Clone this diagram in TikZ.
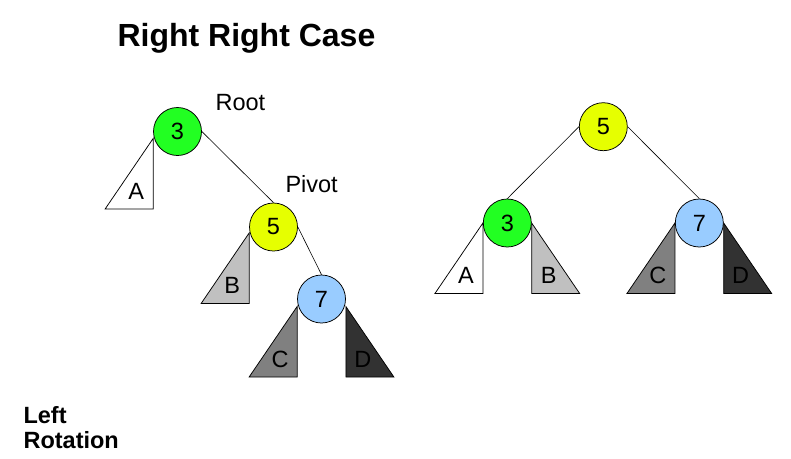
\documentclass[tikz,border=0pt]{standalone}
\usepackage{fontspec}
\setmainfont{Liberation Sans}
\usepackage{tikz}
\usetikzlibrary{calc}

\definecolor{keygreen}{RGB}{34,255,34}
\definecolor{keyyellow}{RGB}{230,255,0}
\definecolor{keyblue}{RGB}{153,204,255}
\definecolor{subB}{RGB}{192,192,192}
\definecolor{subC}{RGB}{128,128,128}
\definecolor{subD}{RGB}{50,50,50}

\begin{document}
\begin{tikzpicture}[x=1pt,y=-1pt,
        key/.style={circle,draw,line width=0.75pt,minimum size=48pt,inner sep=0pt,font=\fontsize{23.5}{23.5}\selectfont},
        edge/.style={line width=0.6pt},
        sub/.style={draw,line width=0.75pt},
        sublabel/.style={anchor=base,font=\fontsize{23.5}{23.5}\selectfont},
        caption/.style={anchor=base west,font=\fontsize{23.5}{23.5}\selectfont}]

        \useasboundingbox (0,0) rectangle (791,458);

        % title and note
        \node[caption,font=\bfseries\fontsize{32}{32}\selectfont] (title) at (114,46.7) {Right Right Case};
        \node[caption,font=\bfseries\fontsize{23.5}{23.5}\selectfont] (left) at (20,423.3) {Left};
        \node[caption,font=\bfseries\fontsize{23.5}{23.5}\selectfont] (rotation) at (20,448.3) {Rotation};

        % left tree (before the rotation)
        \node[key,fill=keygreen]  (l3) at (177.5,131.5) {3};
        \node[key,fill=keyyellow] (l5) at (273.5,227) {5};
        \node[key,fill=keyblue]   (l7) at (321.5,299) {7};
        \node[caption] (root)  at (212,110) {Root};
        \node[caption] (pivot) at (282,192.3) {Pivot};

        \draw[edge] (l3.east) -- (l5.north);
        \draw[edge] (l5.east) -- (l7.north);

        % right tree (after the rotation)
        \node[key,fill=keyyellow] (r5) at (603.3,126.7) {5};
        \node[key,fill=keygreen]  (r3) at (507.3,223) {3};
        \node[key,fill=keyblue]   (r7) at (699.3,223) {7};

        \draw[edge] (r5.west) -- (r3.north);
        \draw[edge] (r5.east) -- (r7.north);

        % subtrees: key/side/direction/colour/name/drop
        \foreach \k/\a/\s/\c/\t/\d in {l3/west/-1/white/A/7, l5/west/-1/subB/B/6,
                                       l7/west/-1/subC/C/7.5, l7/east/1/subD/D/7.5,
                                       r3/west/-1/white/A/0, r3/east/1/subB/B/0,
                                       r7/west/-1/subC/C/0, r7/east/1/subD/D/0} {
            \draw[sub,fill=\c] ($(\k.\a)+(0,\d)$) coordinate (\k\t) -- ++(0,70.5) -- ++(\s*48,0) -- cycle;
            \node[sublabel] (\k\t label) at ($(\k\t)+(\s*17,60.5)$) {\t};
        }
    \end{tikzpicture}
\end{document}
